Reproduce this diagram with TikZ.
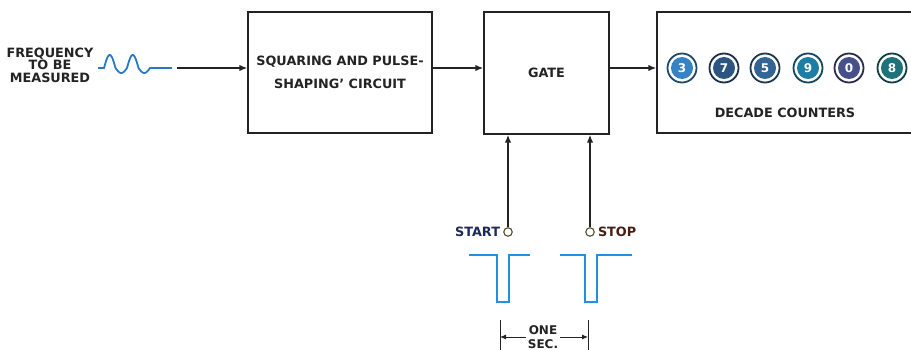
\documentclass[tikz,border=0pt]{standalone}
\usepackage{fontspec}
\setmainfont{DejaVu Sans}
\usetikzlibrary{arrows.meta}
\definecolor{InkBlack}{RGB}{35,35,35}
\definecolor{WaveBlue}{RGB}{40,120,200}
\definecolor{PulseBlue}{RGB}{30,145,225}
\definecolor{StartNavy}{RGB}{30,40,90}
\definecolor{StopBrown}{RGB}{70,30,20}
\definecolor{PinOlive}{RGB}{80,80,40}
\definecolor{DigitA}{RGB}{55,130,195}
\definecolor{DigitB}{RGB}{45,85,130}
\definecolor{DigitC}{RGB}{50,100,150}
\definecolor{DigitD}{RGB}{30,125,165}
\definecolor{DigitE}{RGB}{70,80,140}
\definecolor{DigitF}{RGB}{30,115,120}
\tikzset{
  block/.style={draw=InkBlack,line width=1.4pt,inner sep=0pt,align=center},
  lettering/.style={text=InkBlack,align=center,
    font=\fontsize{12.8}{12.5}\selectfont\bfseries},
  flow/.style={-{Latex[length=8pt,width=6.5pt]},line width=1.5pt,InkBlack},
  dimarrow/.style={-{Latex[length=6pt,width=5pt]},line width=0.9pt,InkBlack},
  pulse/.style={PulseBlue,line width=2.4pt},
  terminal/.style={circle,draw=PinOlive,line width=1.1pt,fill=white,
    inner sep=0pt,minimum size=8.5pt},
  counter/.style={circle,draw=#1!55!black,line width=1.8pt,fill=white,
    minimum size=29pt,inner sep=0pt,text=white,
    font=\fontsize{12}{12}\selectfont\bfseries,
    path picture={\fill[#1] (path picture bounding box.center) circle (11pt);}}
}
\begin{document}
\begin{tikzpicture}[x=1pt,y=-1pt]
  \useasboundingbox (0,0) rectangle (911,350);
  % input signal
  \node[lettering] (freq) at (50,65) {FREQUENCY\\TO BE\\MEASURED};
  \draw[WaveBlue,line width=1.8pt] (98,68) -- (104,68)
    -- plot[domain=0:720,samples=97] ({104+\x/720*46},{68-(sin(\x)>0?13:5)*sin(\x)})
    -- (172,68);
  \coordinate (wavetail) at (177,68);
  % main blocks
  \node[block,minimum width=184pt,minimum height=121pt,
    font=\fontsize{12.8}{23}\selectfont\bfseries,text=InkBlack] (squaring) at (340,72.5)
    {SQUARING AND PULSE-\\SHAPING' CIRCUIT};
  \node[block,minimum width=125pt,minimum height=122pt,
    font=\fontsize{12.8}{12}\selectfont\bfseries,text=InkBlack] (gate) at (546.5,73) {GATE};
  \node[block,minimum width=273pt,minimum height=121pt] (decade) at (793.5,72.5) {};
  \node[lettering] (decadelabel) at (785,113) {DECADE COUNTERS};
  \foreach \d/\x/\c [count=\i] in {3/682/DigitA,7/724/DigitB,5/765/DigitC,
      9/808/DigitD,0/849/DigitE,8/892/DigitF}
    \node[counter=\c] (cnt\i) at (\x,68) {\d};
  % connectors
  \draw[flow] (wavetail) -- (wavetail -| squaring.west);
  \draw[flow] (wavetail -| squaring.east) -- (wavetail -| gate.west);
  \draw[flow] (wavetail -| gate.east) -- (wavetail -| decade.west);
  % start and stop inputs
  \node[terminal] (start) at (508,232) {};
  \node[terminal] (stop) at (590,232) {};
  \node[lettering,text=StartNavy,anchor=east,inner sep=1pt] (starttext) at ([xshift=-2pt]start.west) {START};
  \node[lettering,text=StopBrown,anchor=west,inner sep=1pt] (stoptext) at ([xshift=2pt]stop.east) {STOP};
  \draw[flow] (start) -- (start |- gate.south);
  \draw[flow] (stop) -- (stop |- gate.south);
  % timing pulses
  \draw[pulse] (469,255) -- (497,255) -- (497,302) -- (509,302) -- (509,255) -- (530,255);
  \draw[pulse] (560,255) -- (585,255) -- (585,302) -- (597,302) -- (597,255) -- (632,255);
  % one second interval
  \coordinate (tickleft) at (500,337);
  \coordinate (tickright) at (588,337);
  \draw[line width=0.9pt,InkBlack] (500,320) -- (500,352) (588,320) -- (588,352);
  \node[lettering,inner sep=2pt,font=\fontsize{12}{13.5}\selectfont\bfseries] (onesec) at (543,337) {ONE\\SEC.};
  \draw[dimarrow] (onesec.west) -- (tickleft);
  \draw[dimarrow] (onesec.east) -- (tickright);
\end{tikzpicture}
\end{document}
